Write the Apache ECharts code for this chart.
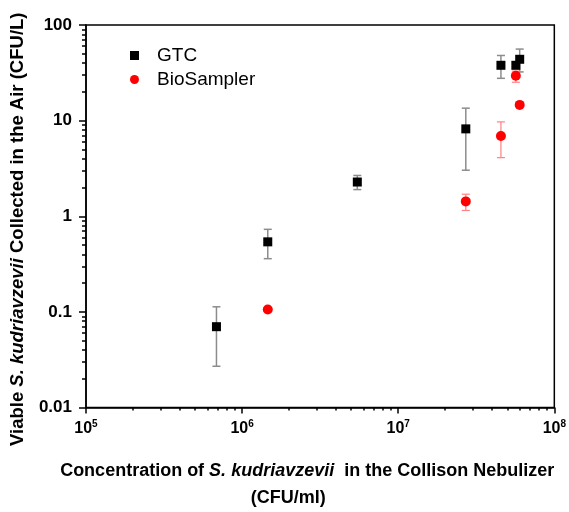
<!DOCTYPE html>
<html>
<head>
<meta charset="utf-8">
<script src="https://cdn.jsdelivr.net/npm/echarts@6/dist/echarts.min.js"></script>
<style>
  html, body { margin: 0; padding: 0; background: #fff; }
  #chart { width: 569px; height: 512px; }
</style>
</head>
<body>
<div id="chart"></div>
<script>
// nebulizer concentration (CFU/ml) and airborne counts (CFU/L)
var gtcX = [6.85e5, 1.46e6, 5.47e6, 2.71e7, 4.55e7, 5.67e7, 6.0e7];
var gtcY = [0.070, 0.54, 2.28, 8.2, 37.9, 37.9, 43.8];
var gtcLow = [0.027, 0.36, 1.9, 3.03, 27.7, 35, 32.3];
var gtcHigh = [0.113, 0.73, 2.67, 13.5, 48, 41, 56];

var bioX = [1.46e6, 2.71e7, 4.55e7, 5.67e7, 6.0e7];
var bioY = [0.106, 1.43, 6.9, 29.4, 14.6];
var bioLow = [0.106, 1.15, 4.1, 25.2, 14.6];
var bioHigh = [0.106, 1.70, 9.7, 32.9, 14.6];

var xMinorTicks = [];
var yMinorTicks = [];
[1e5, 1e6, 1e7].forEach(function (d) {
  for (var k = 2; k <= 9; k++) xMinorTicks.push(k * d);
});
[0.01, 0.1, 1, 10].forEach(function (d) {
  for (var k = 2; k <= 9; k++) yMinorTicks.push(+(k * d).toPrecision(3));
});

var yLabels = { '-2': '0.01', '-1': '0.1', '0': '1', '1': '10', '2': '100' };

function pairs(xs, ys) {
  return xs.map(function (x, i) { return [x, ys[i]]; });
}
function errs(xs, lo, hi) {
  return xs.map(function (x, i) { return [x, lo[i], hi[i]]; });
}

function errorBar(color, width) {
  return function (params, api) {
    var x = api.value(0);
    var lo = api.coord([x, api.value(1)]);
    var hi = api.coord([x, api.value(2)]);
    var cap = 4;
    var st = { stroke: color, lineWidth: width };
    return {
      type: 'group',
      children: [
        { type: 'line', shape: { x1: lo[0], y1: lo[1], x2: hi[0], y2: hi[1] }, style: st },
        { type: 'line', shape: { x1: lo[0] - cap, y1: lo[1], x2: lo[0] + cap, y2: lo[1] }, style: st },
        { type: 'line', shape: { x1: hi[0] - cap, y1: hi[1], x2: hi[0] + cap, y2: hi[1] }, style: st }
      ]
    };
  };
}

var chart = echarts.init(document.getElementById('chart'));
var font = 'Liberation Sans, Arial, sans-serif';

chart.setOption({
  animation: false,
  textStyle: { fontFamily: font },
  grid: {
    left: 86, right: 13, top: 25, bottom: 101,
    show: true, borderColor: '#000', borderWidth: 1.5
  },
  legend: {
    data: ['GTC', 'BioSampler'],
    orient: 'vertical',
    left: 125, top: 41,
    itemWidth: 9, itemHeight: 9, itemGap: 5,
    textStyle: { fontSize: 19, color: '#000', fontFamily: font, padding: [0, 0, 0, 13] }
  },
  xAxis: [{
    type: 'log', logBase: 10, min: 1e5, max: 1e8,
    axisLine: { lineStyle: { color: '#000', width: 1.5 } },
    axisTick: { inside: false, length: 6, lineStyle: { color: '#000', width: 1.5 } },
    splitLine: { show: false },
    axisLabel: {
      margin: 12,
      formatter: function (v) {
        return '{b|10}{s|' + Math.round(Math.log10(v)) + '}';
      },
      rich: {
        b: { fontSize: 16, fontWeight: 'bold', color: '#000', fontFamily: font },
        s: { fontSize: 10, fontWeight: 'bold', color: '#000', fontFamily: font, padding: [0, 0, 9, 0] }
      }
    },
    name: '{b|Concentration of }{i|S. kudriavzevii}{b|  in the Collison Nebulizer}\n{c|(CFU/ml)}',
    nameLocation: 'middle',
    nameGap: 50,
    nameTextStyle: {
      padding: [0, 26, 0, 0],
      rich: {
        b: { fontSize: 18, fontWeight: 'bold', color: '#000', fontFamily: font, lineHeight: 27 },
        i: { fontSize: 18, fontWeight: 'bold', fontStyle: 'italic', color: '#000', fontFamily: font, lineHeight: 27 },
        c: { fontSize: 18, fontWeight: 'bold', color: '#000', fontFamily: font, lineHeight: 27, padding: [0, 38, 0, 0] }
      }
    }
  }, {
    type: 'log', logBase: 10, min: 1e5, max: 1e8,
    position: 'bottom',
    axisLine: { show: false },
    axisTick: { inside: false, length: 3, customValues: xMinorTicks, lineStyle: { color: '#000', width: 1.5 } },
    axisLabel: { show: false },
    splitLine: { show: false }
  }],
  yAxis: [{
    type: 'log', logBase: 10, min: 0.01, max: 100,
    axisLine: { lineStyle: { color: '#000', width: 1.5 } },
    axisTick: { inside: false, length: 7, lineStyle: { color: '#000', width: 1.5 } },
    splitLine: { show: false },
    axisLabel: {
      margin: 14,
      fontSize: 17, fontWeight: 'bold', color: '#000', fontFamily: font,
      formatter: function (v) { return yLabels[Math.round(Math.log10(v))]; }
    },
    name: '{b|Viable }{i|S. kudriavzevii}{b| Collected in the Air (CFU/L)}',
    nameLocation: 'middle',
    nameRotate: 90,
    nameGap: 59,
    nameTextStyle: {
      padding: [0, 26, 0, 0],
      rich: {
        b: { fontSize: 18.5, fontWeight: 'bold', color: '#000', fontFamily: font },
        i: { fontSize: 18.5, fontWeight: 'bold', fontStyle: 'italic', color: '#000', fontFamily: font }
      }
    }
  }, {
    type: 'log', logBase: 10, min: 0.01, max: 100,
    position: 'left',
    axisLine: { show: false },
    axisTick: { inside: false, length: 4, customValues: yMinorTicks, lineStyle: { color: '#000', width: 1.5 } },
    axisLabel: { show: false },
    splitLine: { show: false }
  }],
  series: [
    {
      name: 'GTC error', type: 'custom', renderItem: errorBar('#8c8c8c', 1.5),
      data: errs(gtcX, gtcLow, gtcHigh), z: 1
    },
    {
      name: 'BioSampler error', type: 'custom', renderItem: errorBar('#ff8080', 1.2),
      data: errs(bioX, bioLow, bioHigh), z: 1
    },
    {
      name: 'GTC', type: 'scatter', symbol: 'rect', symbolSize: 9,
      itemStyle: { color: '#000', opacity: 1 },
      data: pairs(gtcX, gtcY), z: 3
    },
    {
      name: 'BioSampler', type: 'scatter', symbol: 'circle', symbolSize: 10,
      itemStyle: { color: '#ff0000', opacity: 1 },
      data: pairs(bioX, bioY), z: 2
    }
  ]
});
</script>
</body>
</html>
